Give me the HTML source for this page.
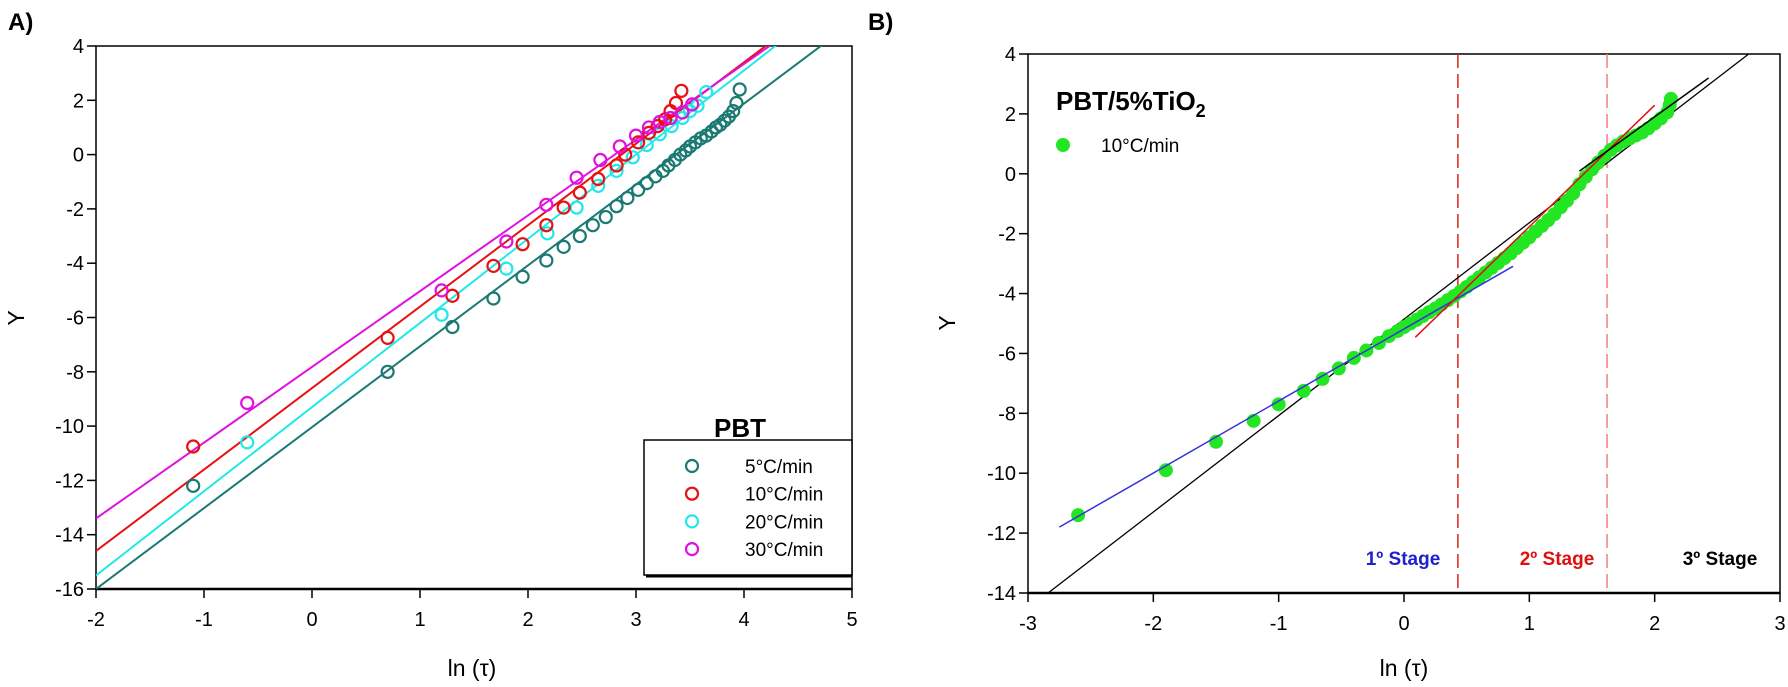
<!DOCTYPE html>
<html><head><meta charset="utf-8"><style>
html,body{margin:0;padding:0;background:#fff}
svg{display:block;font-family:"Liberation Sans",Arial,sans-serif}
</style></head><body>
<svg id="s" width="1788" height="687" viewBox="0 0 1788 687" xmlns="http://www.w3.org/2000/svg">
<text x="8" y="30" font-size="24" font-weight="bold">A)</text>
<text x="868" y="30" font-size="24" font-weight="bold">B)</text>
</svg>
<script>
// ---- Panel A data ----
const aXTicks = [-2,-1,0,1,2,3,4,5];
const aYTicks = [4,2,0,-2,-4,-6,-8,-10,-12,-14,-16];
const aSeriesNames = ["5°C/min","10°C/min","20°C/min","30°C/min"];
const aColors = ["#1a7a73","#e81010","#22e8e8","#e010e0"];
const aFitSlope = [2.98,3.0,3.1,2.79];
const aFitIntercept = [-10.04,-8.6,-9.3,-7.82];
const a5x = [-1.1,0.7,1.3,1.68,1.95,2.17,2.33,2.48,2.6,2.72,2.82,2.92,3.02,3.1,3.18,3.25,3.3,3.36,3.41,3.46,3.5,3.55,3.6,3.65,3.7,3.74,3.78,3.82,3.86,3.9,3.93,3.96];
const a5y = [-12.2,-8.0,-6.35,-5.3,-4.5,-3.9,-3.4,-3.0,-2.6,-2.3,-1.9,-1.6,-1.3,-1.05,-0.8,-0.6,-0.4,-0.2,0,0.15,0.3,0.45,0.6,0.7,0.85,1.0,1.1,1.25,1.4,1.6,1.9,2.4];
const a10x = [-1.1,0.7,1.3,1.68,1.95,2.17,2.33,2.48,2.65,2.82,2.9,3.02,3.12,3.2,3.27,3.32,3.37,3.42];
const a10y = [-10.75,-6.75,-5.2,-4.1,-3.3,-2.6,-1.95,-1.4,-0.9,-0.4,0,0.45,0.8,1.05,1.3,1.6,1.9,2.35];
const a20x = [-0.6,1.2,1.8,2.18,2.45,2.65,2.82,2.97,3.1,3.22,3.33,3.43,3.5,3.57,3.65];
const a20y = [-10.6,-5.9,-4.2,-2.9,-1.95,-1.15,-0.6,-0.1,0.35,0.75,1.05,1.35,1.6,1.8,2.3];
const a30x = [-0.6,1.2,1.8,2.17,2.45,2.67,2.85,3.0,3.12,3.22,3.32,3.43,3.52];
const a30y = [-9.15,-5.0,-3.2,-1.85,-0.85,-0.2,0.3,0.7,1.0,1.2,1.35,1.55,1.85];
// ---- Panel B data ----
const bXTicks = [-3,-2,-1,0,1,2,3];
const bYTicks = [4,2,0,-2,-4,-6,-8,-10,-12,-14];
const bx = [-2.6,-1.9,-1.5,-1.2,-1.0,-0.8,-0.65,-0.52,-0.4,-0.3,-0.2,-0.12,-0.05,0,0.05,0.1,0.15,0.2,0.25,0.3,0.35,0.4,0.45,0.5,0.55,0.6,0.65,0.7,0.75,0.8,0.85,0.9,0.95,1.0,1.05,1.1,1.15,1.2,1.25,1.3,1.35,1.4,1.45,1.5,1.55,1.6,1.65,1.7,1.75,1.8,1.85,1.9,1.95,2.0,2.05,2.1,2.12,2.13];
const by = [-11.4,-9.9,-8.95,-8.25,-7.7,-7.25,-6.85,-6.5,-6.15,-5.9,-5.65,-5.42,-5.25,-5.12,-5.0,-4.88,-4.75,-4.62,-4.5,-4.36,-4.22,-4.08,-3.93,-3.78,-3.62,-3.46,-3.3,-3.14,-2.98,-2.82,-2.66,-2.48,-2.3,-2.12,-1.93,-1.74,-1.55,-1.35,-1.12,-0.9,-0.65,-0.35,-0.1,0.15,0.38,0.6,0.8,0.95,1.08,1.18,1.28,1.38,1.52,1.68,1.85,2.05,2.3,2.5];
const bStage1 = [[-2.75,-11.8],[0.87,-3.09]];
const bStage2 = [[0.09,-5.46],[2.0,2.29]];
const bStage3 = [[1.4,0.09],[2.43,3.2]];
const bOverall = [[-2.84,-14],[2.75,4]];
const bBoundaries = [0.43,1.62];

const NS="http://www.w3.org/2000/svg";
const svg=document.getElementById('s');
function mk(tag,attrs,parent){const e=document.createElementNS(NS,tag);for(const k in attrs)e.setAttribute(k,attrs[k]);(parent||svg).appendChild(e);return e;}

// Panel A axes
const A={l:96,r:852,t:46,b:589,x0:-2,x1:5,y0:-16,y1:4};
const B={l:1028,r:1780,t:54,b:593,x0:-3,x1:3,y0:-14,y1:4};
function sx(P,v){return P.l+(v-P.x0)/(P.x1-P.x0)*(P.r-P.l);}
function sy(P,v){return P.b-(v-P.y0)/(P.y1-P.y0)*(P.b-P.t);}

function axes(P,xt,yt,pfx){
  const g=mk('g',{});
  
  
  const f=mk('rect',{x:P.l,y:P.t,width:P.r-P.l,height:P.b-P.t,fill:'none',stroke:'#000','stroke-width':1.5},g);
  
  
  mk('line',{x1:P.l,y1:P.b,x2:P.r,y2:P.b,stroke:'#000','stroke-width':2.5},g);
  xt.forEach(v=>{const x=sx(P,v);mk('line',{x1:x,y1:P.b,x2:x,y2:P.b+9,stroke:'#000','stroke-width':1.5},g);
    const t=mk('text',{x:x,y:P.b+37,'font-size':20,'text-anchor':'middle'},g);t.textContent=v;
    
    });
  yt.forEach(v=>{const y=sy(P,v);mk('line',{x1:P.l-9,y1:y,x2:P.l,y2:y,stroke:'#000','stroke-width':1.5},g);
    const t=mk('text',{x:P.l-12,y:y+7,'font-size':20,'text-anchor':'end'},g);t.textContent=v;
    
    });
}
axes(A,aXTicks,aYTicks,'a');
axes(B,bXTicks,bYTicks,'b');

function title(x,y,txt,name,rot){const t=mk('text',{x:x,y:y,'font-size':23,'text-anchor':'middle'});t.textContent=txt;if(rot)t.setAttribute('transform','rotate(-90 '+x+' '+y+')');
  
  return t;}
title(472,676,'ln (τ)','a-x-axis-title');
title(24,318,'Y','a-y-axis-title',true);
title(1404,676,'ln (τ)','b-x-axis-title');
title(955,323,'Y','b-y-axis-title',true);

// Panel A fits and points
const clipA=mk('clipPath',{id:'ca'});mk('rect',{x:A.l,y:A.t,width:A.r-A.l,height:A.b-A.t},clipA);
const aXs=[a5x,a10x,a20x,a30x],aYs=[a5y,a10y,a20y,a30y];
[0,2,1,3].forEach(i=>{
  const ln=mk('line',{x1:sx(A,A.x0),y1:sy(A,aFitIntercept[i]+aFitSlope[i]*A.x0),x2:sx(A,A.x1),y2:sy(A,aFitIntercept[i]+aFitSlope[i]*A.x1),stroke:aColors[i],'stroke-width':2,'clip-path':'url(#ca)'});
  
  
});
[0,2,1,3].forEach(i=>{
  aXs[i].forEach((v,j)=>{const c=mk('circle',{cx:sx(A,v),cy:sy(A,aYs[i][j]),r:6,fill:'none',stroke:aColors[i],'stroke-width':2.2});
    
    });
});
// legend A
const lt=mk('text',{x:714,y:437,'font-size':26,'font-weight':'bold'});lt.textContent='PBT';


const lb=mk('rect',{x:644,y:440,width:208,height:135,fill:'#fff',stroke:'#000','stroke-width':1.5});


mk('line',{x1:646,y1:576,x2:852,y2:576,stroke:'#000','stroke-width':3});
aSeriesNames.forEach((n,i)=>{const y=466+i*27.7;
  const c=mk('circle',{cx:692,cy:y,r:6,fill:'none',stroke:aColors[i],'stroke-width':2.2});
  
  
  const t=mk('text',{x:745,y:y+7,'font-size':19});t.textContent=n;
  
  });

// Panel B
const clipB=mk('clipPath',{id:'cb'});mk('rect',{x:B.l,y:B.t,width:B.r-B.l,height:B.b-B.t},clipB);
const dcol=['#e02020','#f08080'];
bBoundaries.forEach((v,i)=>{const l=mk('line',{x1:sx(B,v),y1:B.t,x2:sx(B,v),y2:B.b,stroke:dcol[i],'stroke-width':1.5,'stroke-dasharray':'14,6'});
  
  });
function seg(s,col,name,w){const l=mk('line',{x1:sx(B,s[0][0]),y1:sy(B,s[0][1]),x2:sx(B,s[1][0]),y2:sy(B,s[1][1]),stroke:col,'stroke-width':w,'clip-path':'url(#cb)'});
  
  }
seg(bOverall,'#000','b-overall-fit',1.3);
bx.forEach((v,j)=>{const c=mk('circle',{cx:sx(B,v),cy:sy(B,by[j]),r:7,fill:'#22e622'});
  
  });
seg(bStage1,'#3333dd','b-stage1-fit',1.5);
seg(bStage2,'#e01010','b-stage2-fit',1.5);
seg(bStage3,'#000','b-stage3-fit',1.5);
const bt=mk('text',{x:1056,y:110,'font-size':26,'font-weight':'bold'});
bt.innerHTML='PBT/5%TiO<tspan font-size="18" dy="7">2</tspan>';


const bd=mk('circle',{cx:1063,cy:145,r:7,fill:'#22e622'});


const bl=mk('text',{x:1101,y:152,'font-size':19});bl.textContent='10°C/min';


[['1º Stage',1403,'#2020cc'],['2º Stage',1557,'#e01010'],['3º Stage',1720,'#000']].forEach(s=>{
  const t=mk('text',{x:s[1],y:565,'font-size':19,'font-weight':'bold','text-anchor':'middle',fill:s[2]});t.textContent=s[0];
  
  });
</script>
</body></html>
